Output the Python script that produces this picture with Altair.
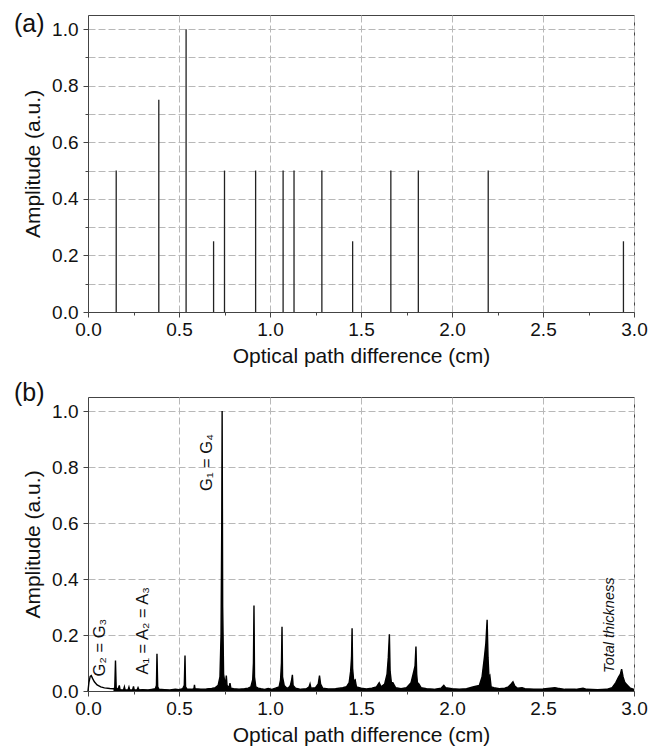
import altair as alt
import pandas as pd

# ---------------- Panel (a): stick spectrum ----------------
peak_x_a = [0.155, 0.389, 0.539, 0.690, 0.750, 0.921, 1.072, 1.132, 1.285,
            1.454, 1.664, 1.815, 2.199, 2.942]
peak_h_a = [0.50, 0.75, 1.00, 0.25, 0.50, 0.50, 0.50, 0.50, 0.50,
            0.25, 0.50, 0.50, 0.50, 0.25]

# ---------------- Panel (b): measured spectrum ----------------
opd_b = [0.000, 0.005, 0.012, 0.018, 0.025, 0.035, 0.050, 0.070, 0.090, 0.120,
         0.140, 0.147, 0.151, 0.155, 0.165, 0.172, 0.176, 0.195, 0.200, 0.204,
         0.220, 0.225, 0.229, 0.245, 0.250, 0.254, 0.270, 0.275, 0.280, 0.300,
         0.330, 0.350, 0.370, 0.376, 0.379, 0.383, 0.390, 0.420, 0.450, 0.480,
         0.500, 0.520, 0.529, 0.533, 0.536, 0.545, 0.570, 0.582, 0.585, 0.588,
         0.620, 0.650, 0.680, 0.700, 0.715, 0.725, 0.731, 0.735, 0.737, 0.740,
         0.745, 0.752, 0.757, 0.760, 0.764, 0.775, 0.780, 0.785, 0.800, 0.830,
         0.860, 0.880, 0.895, 0.905, 0.909, 0.912, 0.915, 0.922, 0.935, 0.950,
         0.970, 0.990, 1.010, 1.030, 1.050, 1.058, 1.063, 1.066, 1.069, 1.078,
         1.090, 1.100, 1.112, 1.119, 1.123, 1.127, 1.140, 1.170, 1.200, 1.215,
         1.220, 1.225, 1.250, 1.265, 1.272, 1.278, 1.290, 1.320, 1.360, 1.400,
         1.420, 1.435, 1.443, 1.448, 1.451, 1.454, 1.460, 1.468, 1.475, 1.500,
         1.530, 1.560, 1.585, 1.600, 1.610, 1.630, 1.643, 1.650, 1.656, 1.660,
         1.667, 1.675, 1.690, 1.720, 1.750, 1.775, 1.790, 1.797, 1.802, 1.806,
         1.810, 1.818, 1.830, 1.860, 1.900, 1.940, 1.955, 1.965, 2.000, 2.040,
         2.080, 2.120, 2.150, 2.165, 2.178, 2.186, 2.193, 2.198, 2.203, 2.208,
         2.215, 2.230, 2.260, 2.290, 2.310, 2.325, 2.335, 2.345, 2.360, 2.385,
         2.400, 2.450, 2.500, 2.540, 2.565, 2.580, 2.620, 2.680, 2.720, 2.740,
         2.800, 2.850, 2.880, 2.900, 2.915, 2.925, 2.932, 2.940, 2.950, 2.965,
         2.980, 3.000]
amp_b = [0.000, 0.030, 0.052, 0.055, 0.045, 0.033, 0.022, 0.015, 0.011, 0.009,
         0.008, 0.010, 0.109, 0.010, 0.006, 0.020, 0.005, 0.004, 0.015, 0.004,
         0.004, 0.014, 0.004, 0.004, 0.016, 0.004, 0.004, 0.012, 0.004, 0.005,
         0.004, 0.006, 0.008, 0.020, 0.133, 0.015, 0.006, 0.005, 0.004, 0.006,
         0.005, 0.008, 0.020, 0.127, 0.015, 0.006, 0.006, 0.008, 0.022, 0.008,
         0.006, 0.007, 0.009, 0.012, 0.020, 0.050, 0.200, 0.600, 1.000, 0.300,
         0.060, 0.030, 0.035, 0.055, 0.020, 0.012, 0.028, 0.010, 0.008, 0.006,
         0.008, 0.010, 0.015, 0.040, 0.100, 0.305, 0.050, 0.015, 0.010, 0.008,
         0.006, 0.009, 0.006, 0.010, 0.015, 0.040, 0.100, 0.229, 0.050, 0.020,
         0.012, 0.010, 0.020, 0.040, 0.058, 0.020, 0.010, 0.006, 0.008, 0.015,
         0.025, 0.010, 0.012, 0.025, 0.055, 0.025, 0.010, 0.007, 0.008, 0.012,
         0.015, 0.030, 0.070, 0.120, 0.224, 0.080, 0.035, 0.040, 0.015, 0.010,
         0.007, 0.010, 0.015, 0.030, 0.015, 0.025, 0.060, 0.120, 0.203, 0.070,
         0.030, 0.030, 0.012, 0.008, 0.012, 0.030, 0.070, 0.090, 0.159, 0.060,
         0.030, 0.025, 0.012, 0.008, 0.006, 0.010, 0.020, 0.012, 0.008, 0.006,
         0.008, 0.015, 0.020, 0.050, 0.120, 0.170, 0.254, 0.120, 0.050, 0.055,
         0.015, 0.012, 0.008, 0.010, 0.015, 0.025, 0.033, 0.018, 0.010, 0.012,
         0.008, 0.006, 0.007, 0.010, 0.012, 0.010, 0.006, 0.006, 0.010, 0.006,
         0.005, 0.006, 0.012, 0.030, 0.050, 0.060, 0.078, 0.050, 0.030, 0.020,
         0.010, 0.006]

# annotations of panel (b)
ann_text = ["G\u2082 = G\u2083", "A\u2081 = A\u2082 = A\u2083", "G\u2081 = G\u2084"]
ann_x = [0.068, 0.302, 0.655]
ann_y = [0.155, 0.215, 0.816]
ital_text = ["Total thickness"]
ital_x = [2.867]
ital_y = [0.235]

x_ticks = [0.0, 0.25, 0.5, 0.75, 1.0, 1.25, 1.5, 1.75, 2.0, 2.25, 2.5, 2.75, 3.0]
y_ticks = [0.0, 0.1, 0.2, 0.3, 0.4, 0.5, 0.6, 0.7, 0.8, 0.9, 1.0]

FONT = "Liberation Sans"
FRAME = "#444444"
GRID = "#b8b8b8"
W = 546

x_major = "round(datum.value*4) % 2 == 0"
y_major = "round(datum.value*10) % 2 == 0"


def x_axis():
    return alt.Axis(
        values=x_ticks, title="Optical path difference (cm)",
        labelExpr=f"{x_major} ? format(datum.value, '.1f') : ''",
        grid=True, gridDash=[7, 3], gridColor=GRID, gridWidth=1,
        gridOpacity={"condition": {"test": x_major, "value": 1}, "value": 0},
        tickSize={"condition": {"test": x_major, "value": 5}, "value": 3},
        tickColor=FRAME, domainColor=FRAME, labelColor="#111", titleColor="#111",
        labelFontSize=19, titleFontSize=21, titleFontWeight="normal",
        labelPadding=3, titlePadding=6, labelFlush=False)


def y_axis():
    return alt.Axis(
        values=y_ticks, title="Amplitude (a.u.)",
        labelExpr=f"{y_major} ? format(datum.value, '.1f') : ''",
        grid=True, gridDash=[7, 3], gridColor=GRID, gridWidth=1,
        tickSize={"condition": {"test": y_major, "value": 5}, "value": 3},
        tickColor=FRAME, domainColor=FRAME, labelColor="#111", titleColor="#111",
        labelFontSize=19, titleFontSize=21, titleFontWeight="normal",
        labelPadding=5, titlePadding=8, labelFlush=False)


xs = alt.Scale(domain=[0, 3], nice=False, zero=False)
ys = alt.Scale(domain=[0, 1.05], nice=False)

# ----- panel (a)
df_a = pd.DataFrame({"opd": peak_x_a, "amp": peak_h_a})
df_a["base"] = 0.0
sticks = alt.Chart(df_a).mark_rule(color="#222222", strokeWidth=1.3).encode(
    x=alt.X("opd:Q", scale=xs, axis=x_axis()),
    y=alt.Y("base:Q", scale=ys, axis=y_axis()),
    y2="amp:Q",
)
lab_a = alt.Chart(pd.DataFrame({"t": ["(a)"]})).mark_text(
    align="left", baseline="top", fontSize=25, color="#111"
).encode(x=alt.value(-74), y=alt.value(-3), text="t:N")
panel_a = alt.layer(sticks, lab_a).properties(width=W, height=297)

# ----- panel (b)
df_b = pd.DataFrame({"opd": opd_b, "amp": amp_b})
line_b = alt.Chart(df_b).mark_line(color="black", strokeWidth=1.4).encode(
    x=alt.X("opd:Q", scale=xs, axis=x_axis()),
    y=alt.Y("amp:Q", scale=ys, axis=y_axis()),
)
fill_b = alt.Chart(df_b).transform_filter("datum.opd > 0.13").mark_area(
    color="black", opacity=1).encode(x="opd:Q", y="amp:Q")
df_ann = pd.DataFrame({"x": ann_x, "y": ann_y, "t": ann_text})
ann = alt.Chart(df_ann).mark_text(
    angle=270, align="center", baseline="middle", fontSize=16.5, color="#111"
).encode(x="x:Q", y="y:Q", text="t:N")
df_it = pd.DataFrame({"x": ital_x, "y": ital_y, "t": ital_text})
ann_it = alt.Chart(df_it).mark_text(
    angle=270, align="center", baseline="middle", fontSize=14.5,
    fontStyle="italic", color="#111"
).encode(x="x:Q", y="y:Q", text="t:N")
lab_b = alt.Chart(pd.DataFrame({"t": ["(b)"]})).mark_text(
    align="left", baseline="top", fontSize=25, color="#111"
).encode(x=alt.value(-74), y=alt.value(-16), text="t:N")
panel_b = alt.layer(fill_b, line_b, ann, ann_it, lab_b).properties(width=W, height=294)

chart = alt.vconcat(panel_a, panel_b, spacing=13).configure(
    font=FONT,
    padding={"left": 5, "top": 3, "right": 5, "bottom": 0},
).configure_view(stroke=FRAME, strokeWidth=1)

chart.save("out.html", embed_options={"renderer": "svg", "actions": False})
